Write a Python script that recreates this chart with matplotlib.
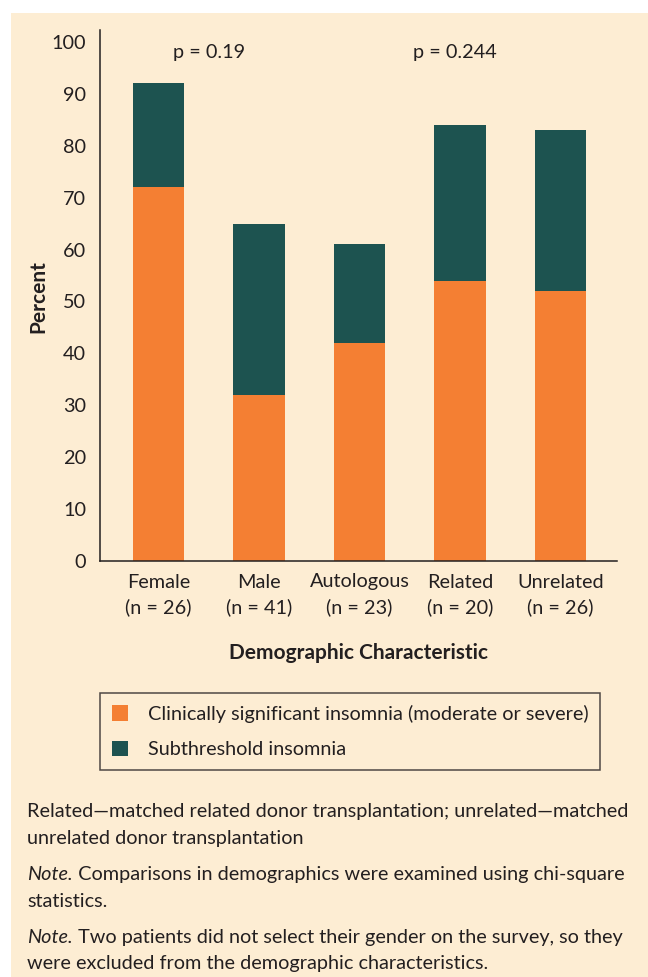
import matplotlib
matplotlib.use("Agg")
import matplotlib.pyplot as plt
from matplotlib.patches import Rectangle
import numpy as np

# data
categories = ["Female", "Male", "Autologous", "Related", "Unrelated"]
group_sizes = [26, 41, 23, 20, 26]
clinical = [72, 32, 42, 54, 52]
subthreshold = [20, 33, 19, 30, 31]
p_labels = ["p = 0.19", "p = 0.244"]
p_positions = [0.5, 2.95]
legend_labels = ["Clinically significant insomnia (moderate or severe)",
                 "Subthreshold insomnia"]

ORANGE = "#F47F33"
TEAL = "#1D5350"
CREAM = "#FDEDD3"
INK = "#231F20"
W, H = 648, 977
FS = 14.3

plt.rcParams["font.family"] = ["Lato", "DejaVu Sans"]
plt.rcParams["text.color"] = INK


def fx(px):
    return px / W


def fy(py):
    # pixel rows from the top -> figure fraction
    return 1 - py / H


fig = plt.figure(figsize=(W / 100, H / 100), dpi=100)
fig.patch.set_facecolor("white")
fig.add_artist(Rectangle((fx(11), 0), 1 - fx(11), fy(13), transform=fig.transFigure,
                         facecolor=CREAM, edgecolor="none", zorder=0))

ax = fig.add_axes([fx(100), fy(561), fx(517), (561 - 30) / H])
ax.set_facecolor("none")

x = np.arange(len(categories))
b1 = ax.bar(x, clinical, width=0.51, color=ORANGE, label=legend_labels[0])
b2 = ax.bar(x, subthreshold, width=0.51, bottom=clinical, color=TEAL,
            label=legend_labels[1])

ax.set_xlim(-0.58, 4.56)
ax.set_ylim(0, 102.3)
ax.set_yticks(range(0, 101, 10))
ax.set_xticks(x)
ax.set_xticklabels([f"{c}\n(n = {n})" for c, n in zip(categories, group_sizes)],
                   linespacing=1.5)
ax.tick_params(axis="both", length=0, labelsize=FS, colors=INK)
ax.tick_params(axis="y", pad=10)
ax.tick_params(axis="x", pad=9)
for side in ["top", "right"]:
    ax.spines[side].set_visible(False)
for side in ["left", "bottom"]:
    ax.spines[side].set_color(INK)
    ax.spines[side].set_linewidth(1.1)

for lab, pos in zip(p_labels, p_positions):
    ax.text(pos, 98, lab, ha="center", va="center", fontsize=FS)

fig.text(fx(38), fy(297), "Percent", rotation=90, ha="center", va="center",
         fontsize=15, fontweight="bold")
fig.text(fx(358.5), fy(653), "Demographic Characteristic", ha="center",
         va="center", fontsize=15, fontweight="bold")

leg = fig.legend(handles=[b1, b2], loc="upper left",
                 bbox_to_anchor=(fx(100), fy(693)), borderaxespad=0,
                 fontsize=FS, frameon=True, fancybox=False, edgecolor=INK,
                 facecolor="none", handlelength=0.8, handleheight=0.8,
                 handletextpad=1.0, borderpad=0.6, labelspacing=0.9)
leg.get_frame().set_linewidth(1.1)

# footnotes
fig.text(fx(27), fy(817), "Related\u2014matched related donor transplantation; unrelated\u2014matched",
         fontsize=FS, va="baseline")
fig.text(fx(27), fy(844), "unrelated donor transplantation", fontsize=FS, va="baseline")
n1 = fig.text(fx(27), fy(880), "Note.", fontsize=FS, style="italic", va="baseline")
ax.annotate(" Comparisons in demographics were examined using chi-square",
            xy=(1, 0), xycoords=n1, va="bottom", ha="left", fontsize=FS,
            annotation_clip=False)
fig.text(fx(27), fy(907), "statistics.", fontsize=FS, va="baseline")
n2 = fig.text(fx(27), fy(943), "Note.", fontsize=FS, style="italic", va="baseline")
ax.annotate(" Two patients did not select their gender on the survey, so they",
            xy=(1, 0), xycoords=n2, va="bottom", ha="left", fontsize=FS,
            annotation_clip=False)
fig.text(fx(27), fy(969), "were excluded from the demographic characteristics.",
         fontsize=FS, va="baseline")

fig.savefig("out.png", dpi=100)
